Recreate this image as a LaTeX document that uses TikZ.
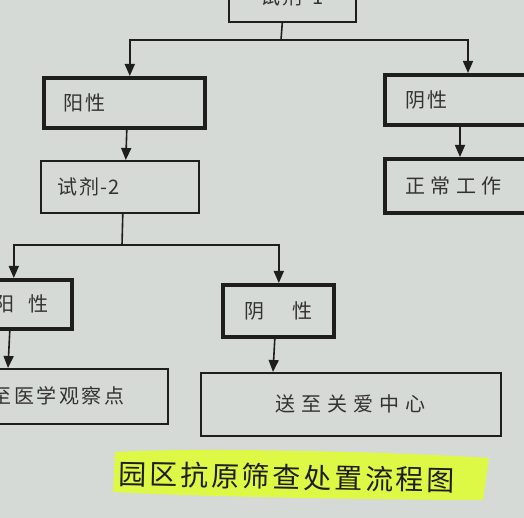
\documentclass[tikz,border=0pt]{standalone}
\usepackage{fontspec}
\setmainfont{Noto Sans CJK SC}
\newfontfamily\cjk{Noto Sans CJK SC}
\usetikzlibrary{arrows.meta}
\definecolor{paper}{RGB}{214,218,214}
\definecolor{ink}{RGB}{30,30,30}
\definecolor{txt}{RGB}{50,50,50}
\definecolor{hilite}{RGB}{222,248,70}
\begin{document}
\begin{tikzpicture}[x=1pt,y=-1pt,
  box/.style={draw=ink,rectangle,anchor=north west,text=txt,font=\cjk\fontsize{20}{20}\selectfont\addfontfeatures{LetterSpace=8}},
  thinbox/.style={box,line width=1.6pt},
  thickbox/.style={box,line width=3.6pt},
  conn/.style={draw=ink,line width=1.6pt},
  arr/.style={conn,-{Triangle[width=10pt,length=12pt]}}]
\useasboundingbox (0,0) rectangle (524,518);
\fill[paper] (0,0) rectangle (524,518);
\begin{scope}
\clip (0,0) rectangle (524,518);
% highlight
\fill[hilite] (115,452) .. controls (200,447) and (400,452) .. (489,458) -- (483,500) .. controls (400,500) and (200,497) .. (113,492) -- cycle;
\node[text=ink,font=\cjk\fontsize{28}{28}\selectfont\addfontfeatures{LetterSpace=10},rotate=-1.2] (title) at (287,477) {园区抗原筛查处置流程图};
% boxes
\node[thinbox,minimum width=127,minimum height=50,inner sep=0] (t1) at (228,-29) {试剂-1};
\node[thickbox,minimum width=161,minimum height=50,inner xsep=20,inner ysep=0,text width=121,align=left] (p1) at (42,76) {阳性};
\node[thickbox,minimum width=170,minimum height=50,inner xsep=21,inner ysep=0,text width=128,align=left] (n1) at (383,73) {阴性};
\node[thinbox,minimum width=158,minimum height=52,inner xsep=17,inner ysep=0,text width=124,align=left] (r2) at (40,160) {试剂\hspace{1pt}-\hspace{1pt}2};
\node[thickbox,minimum width=170,minimum height=54,inner xsep=21,inner ysep=0,text width=128,align=left,font=\cjk\fontsize{20}{20}\selectfont\addfontfeatures{LetterSpace=26}] (w1) at (383,157) {正常工作};
\node[thickbox,minimum width=100,minimum height=49,inner sep=0] (p2) at (-30,278) {阳\hspace{14pt}性};
\node[thickbox,minimum width=111,minimum height=52,inner sep=0] (n2) at (221,283) {阴\hspace{28pt}性};
\node[thinbox,minimum width=242,minimum height=55,inner sep=0,font=\cjk\fontsize{20}{20}\selectfont\addfontfeatures{LetterSpace=13}] (m1) at (-75,368) {送至医学观察点};
\node[thinbox,minimum width=300,minimum height=63,inner sep=0,font=\cjk\fontsize{20}{20}\selectfont\addfontfeatures{LetterSpace=30}] (c1) at (200,372) {送至关爱中心};
% connectors
\coordinate (j1) at (281,40);
\coordinate (j2) at (122,245);
\draw[conn] ([xshift=-10pt]t1.south) -- (j1);
\draw[arr] (j1) -| ([xshift=5.5pt]p1.north);
\draw[arr] (j1) -| ([xshift=85pt]n1.north west);
\draw[arr] ([xshift=2.5pt]p1.south) -- ([xshift=6pt]r2.north);
\draw[arr] ([xshift=77pt]n1.south west) -- ([xshift=77pt]w1.north west);
\draw[conn] ([xshift=3pt]r2.south) -- (j2);
\draw[arr] (j2) -| ([xshift=-8pt]p2.north);
\draw[arr] (j2) -| ([xshift=0.5pt]n2.north);
\draw[arr] ([xshift=-12pt]p2.south) -- ([xshift=83pt]m1.north west);
\draw[arr] ([xshift=-3.5pt]n2.south) -- ([xshift=73pt]c1.north west);
\end{scope}
\end{tikzpicture}
\end{document}
